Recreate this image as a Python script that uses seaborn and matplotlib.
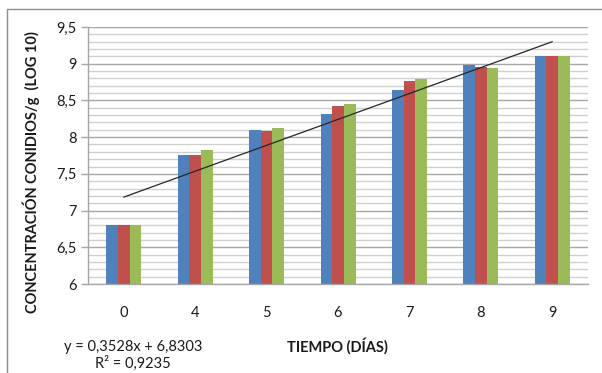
import numpy as np
import pandas as pd
import matplotlib
matplotlib.use("Agg")
import matplotlib.pyplot as plt
from matplotlib.patches import Rectangle
from matplotlib.ticker import MultipleLocator, FuncFormatter
import seaborn as sns

# Days of sampling and conidia concentration (log10) for three replicates
dias = ["0", "4", "5", "6", "7", "8", "9"]
serie1 = [6.80, 7.76, 8.10, 8.32, 8.64, 8.98, 9.10]
serie2 = [6.80, 7.76, 8.08, 8.42, 8.76, 8.96, 9.10]
serie3 = [6.80, 7.83, 8.12, 8.45, 8.79, 8.94, 9.10]
series = ["Serie1", "Serie2", "Serie3"]
colores = ["#4F81BD", "#C0504D", "#9BBB59"]

# Linear trendline reported on the chart
pendiente = 0.3528
intercepto = 6.8303
r2 = 0.9235

df = pd.DataFrame({
    "dia": dias * 3,
    "valor": serie1 + serie2 + serie3,
    "serie": [s for s in series for _ in dias],
})

sns.set_theme(style="white")
plt.rcParams["font.family"] = ["Lato", "DejaVu Sans"]

fig = plt.figure(figsize=(6.02, 3.73), dpi=100)
ax = fig.add_axes([88 / 602, 1 - 284 / 373, 500 / 602, 257 / 373])

sns.barplot(data=df, x="dia", y="valor", hue="serie", order=dias,
            hue_order=series, palette=colores, width=0.49, gap=0,
            saturation=1, linewidth=0, legend=False, ax=ax)

# Trendline across the categories (x = 1..n)
idx = np.arange(len(dias))
ax.plot(idx, pendiente * (idx + 1) + intercepto, color="#262626", lw=0.9,
        zorder=5)

ax.set_ylim(6, 9.5)
ax.set_xlim(-0.5, len(dias) - 0.5)
ax.yaxis.set_major_locator(MultipleLocator(0.5))
ax.yaxis.set_minor_locator(MultipleLocator(0.1))
ax.yaxis.set_major_formatter(FuncFormatter(
    lambda v, p: (f"{v:g}").replace(".", ",")))
ax.grid(which="minor", axis="y", color="#d0d0d0", lw=1.0)
ax.grid(which="major", axis="y", color="#a6a6a6", lw=1.0)
ax.set_axisbelow(True)

for side in ["top", "right"]:
    ax.spines[side].set_visible(False)
for side in ["left", "bottom"]:
    ax.spines[side].set_color("#a6a6a6")
    ax.spines[side].set_linewidth(1.0)

ax.tick_params(axis="y", which="major", left=True, length=5, width=1,
               color="#a6a6a6", labelsize=10.5, pad=3, labelcolor="#1a1a1a")
ax.tick_params(axis="y", which="minor", left=False)
ax.tick_params(axis="x", length=0, labelsize=10.5, pad=16,
               labelcolor="#1a1a1a")
ax.set_xlabel("")
ax.set_ylabel("")

fig.text(31 / 602, 1 - 172 / 373, "CONCENTRACIÓN CONIDIOS/g  (LOG 10)",
         fontsize=10.5, fontweight="bold", rotation=90, ha="center",
         va="center", color="#1a1a1a")

fig.text(337 / 602, 1 - 346 / 373, "TIEMPO (DÍAS)", fontsize=10.5,
         fontweight="bold", ha="center", va="center", color="#1a1a1a")

eq = (f"y = {pendiente:.4f}x + {intercepto:.4f}").replace(".", ",")
fig.text(133 / 602, 1 - 347 / 373, eq, fontsize=10.5, ha="center",
         va="center", color="#1a1a1a")
fig.text(133 / 602, 1 - 363 / 373,
         (f"R² = {r2:.4f}").replace(".", ","), fontsize=10.5,
         ha="center", va="center", color="#1a1a1a")

# Chart frame
fig.patches.append(Rectangle((7 / 602, -0.05), 1.2, 1 - 9 / 373 + 0.05,
                             transform=fig.transFigure, fill=False,
                             edgecolor="#8c8c8c", lw=1.0))

fig.savefig("out.png", dpi=100)
